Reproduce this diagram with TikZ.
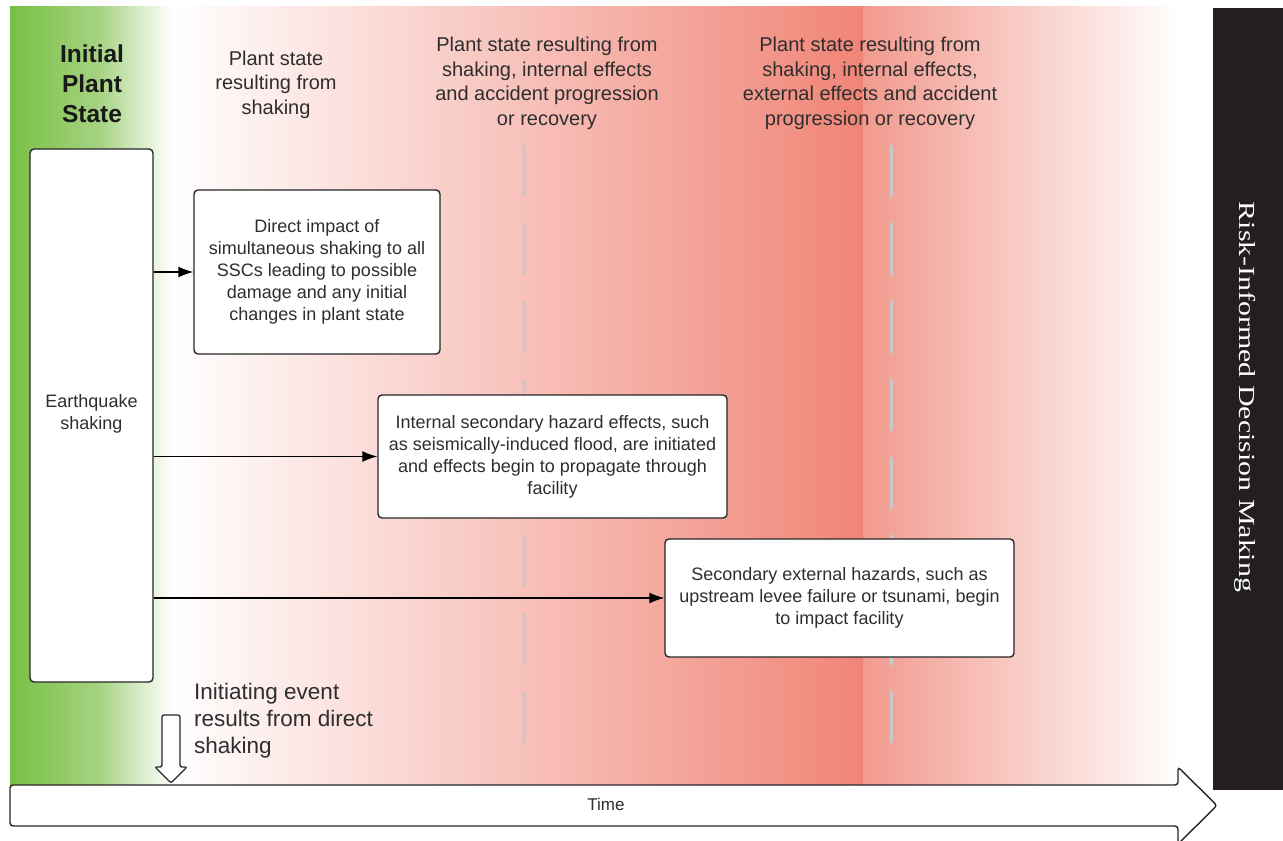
\documentclass[tikz,border=0pt]{standalone}
\usepackage{fontspec}
\usepackage{graphicx}
\setmainfont{Liberation Sans}
\newfontfamily\serifrisk{Liberation Serif}
\usetikzlibrary{arrows.meta}
\definecolor{grn}{HTML}{78BF43}
\definecolor{grnmid}{HTML}{A6D383}
\definecolor{salmon}{HTML}{F08577}
\definecolor{salmonb}{HTML}{F29A8E}
\definecolor{txt}{HTML}{2E2E2E}
\definecolor{dashgray}{HTML}{C9C9C9}
\definecolor{barblack}{HTML}{231F20}
\begin{document}
\begin{tikzpicture}[x=1pt,y=-1pt,
  box/.style={draw=black!85, line width=1.4pt, fill=white, rounded corners=4pt, inner sep=0pt, align=center, text=txt, font=\fontsize{18}{22}\selectfont},
  hdr/.style={align=center, text=txt, inner sep=0pt, font=\fontsize{20}{24.5}\selectfont},
  conn/.style={line width=1.3pt, -{Latex[length=15pt,width=11pt]}},
  sepline/.style={dashgray, line width=3pt, dash pattern=on 52pt off 26pt},
  outl/.style={draw=black!85, line width=1.4pt, fill=white}]
\clip (0,0) rectangle (1283,841);
\fill[white] (0,0) rectangle (1283,841);
% background bands
\shade[left color=grn, right color=grnmid] (10,6) rectangle (100,786);
\shade[left color=grnmid, right color=white] (99.5,6) rectangle (172,786);
\shade[left color=white, right color=salmon] (172,6) rectangle (863,786);
\shade[left color=salmonb, right color=white] (863,6) rectangle (1182,786);
% separators
\draw[sepline] (524,145) -- (524,750);
\draw[sepline] (891,145) -- (891,750);
% headers
\node[hdr, text=black!90, font=\bfseries\fontsize{24.5}{30}\selectfont] (h0) at (92,84) {Initial\\Plant\\State};
\node[hdr] (h1) at (276,84.5) {Plant state\\resulting from\\shaking};
\node[hdr] (h2) at (547,83.5) {Plant state resulting from\\shaking, internal effects\\and accident progression\\or recovery};
\node[hdr] (h3) at (870,83.5) {Plant state resulting from\\shaking, internal effects,\\external effects and accident\\progression or recovery};
% boxes
\node[box, minimum width=123pt, minimum height=533pt, text depth=8pt] (eq) at (91.5,415.5) {Earthquake\\shaking};
\node[box, minimum width=246pt, minimum height=164pt] (b1) at (317,272) {Direct impact of\\simultaneous shaking to all\\SSCs leading to possible\\damage and any initial\\changes in plant state};
\node[box, minimum width=349pt, minimum height=123pt] (b2) at (552.5,456.5) {Internal secondary hazard effects, such\\as seismically-induced flood, are initiated\\and effects begin to propagate through\\facility};
\node[box, minimum width=349pt, minimum height=118pt] (b3) at (839.5,598) {Secondary external hazards, such as\\upstream levee failure or tsunami, begin\\to impact facility};
% connectors
\draw[conn] (eq.east |- b1.west) -- (b1.west);
\draw[conn] (eq.east |- b2.west) -- (b2.west);
\draw[conn] (eq.east |- b3.west) -- (b3.west);
% time arrow
\draw[outl, rounded corners=3pt] (1178,785) -- (10,785) -- (10,826) -- (1178,826) -- (1178,844) -- (1217,805.5) -- (1178,767) -- cycle;
\node[text=txt, font=\fontsize{17}{20}\selectfont] (time) at (606,804) {Time};
% initiating event arrow
\draw[outl, line width=1.3pt, rounded corners=2pt] (162,715) -- (180,715) -- (180,767) -- (187,767) -- (171,783) -- (155,767) -- (162,767) -- cycle;
\node[anchor=west, align=left, text=txt, inner sep=0pt, font=\fontsize{22.5}{27}\selectfont] (init) at (194,721) {Initiating event\\results from direct\\shaking};
% risk bar
\fill[barblack] (1213,8) rectangle (1290,790);
\node[rotate=-90, text=white, inner sep=0pt, font=\serifrisk\fontsize{23}{26}\selectfont] (risk) at (1245,397) {\scalebox{1.3}[1]{Risk-Informed Decision Making}};
\end{tikzpicture}
\end{document}
